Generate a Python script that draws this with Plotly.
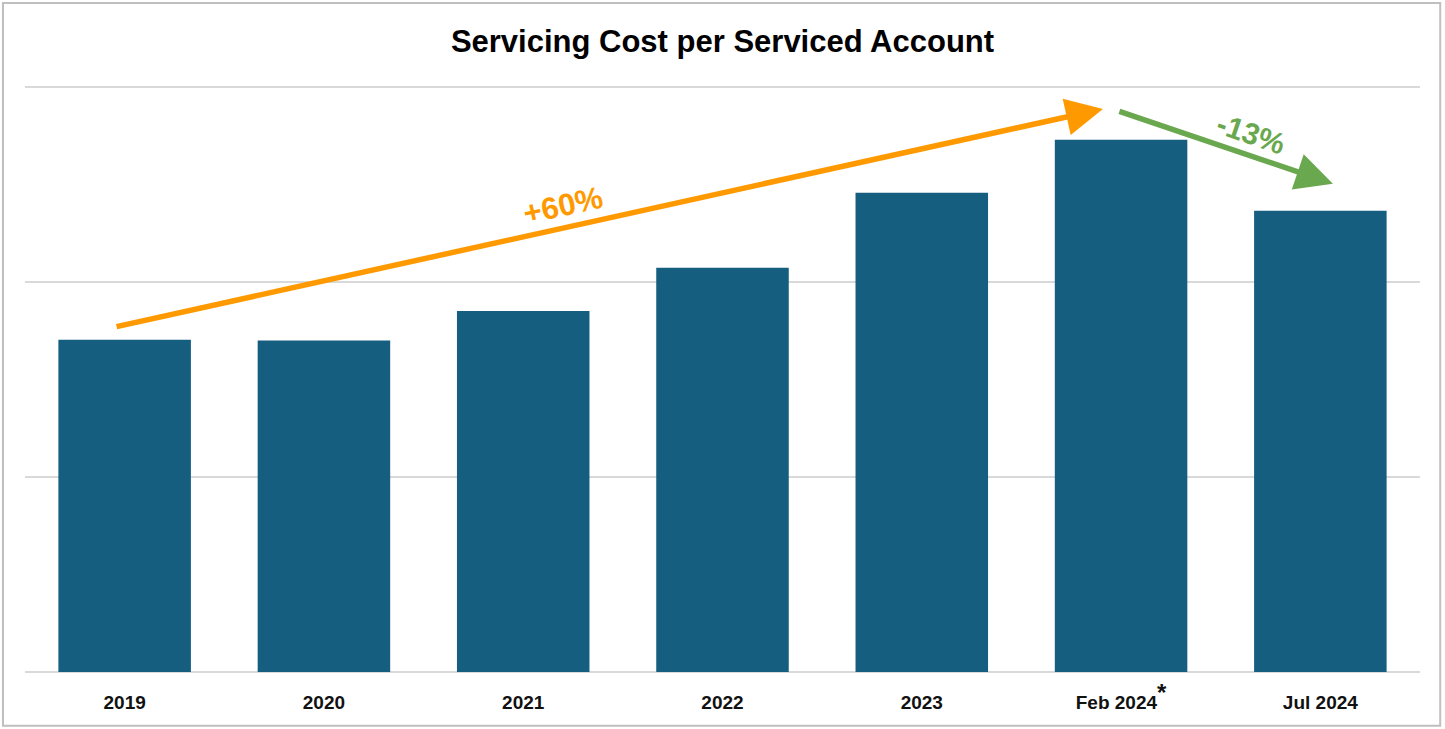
import plotly.graph_objects as go

categories = ["2019", "2020", "2021", "2022", "2023", "Feb 2024", "Jul 2024"]
tick_labels = ["2019", "2020", "2021", "2022", "2023",
               "Feb 2024<sup><span style='font-size:24px'>*</span></sup>", "Jul 2024"]
cost_values = [1.703, 1.699, 1.851, 2.073, 2.457, 2.729, 2.365]

up_label = "+60%"
down_label = "-13%"

x_pos = list(range(len(categories)))
FONT = "Liberation Sans, Arial, sans-serif"

fig = go.Figure()
fig.add_trace(go.Bar(
    x=x_pos, y=cost_values, marker=dict(color="#165E80", line=dict(width=0)),
    width=0.665, hoverinfo="skip", showlegend=False,
))

fig.update_layout(
    width=1445, height=729,
    margin=dict(l=25, r=25, t=81, b=57),
    paper_bgcolor="white", plot_bgcolor="white",
    title=dict(text="<b>Servicing Cost per Serviced Account</b>", x=0.5, xanchor="center",
               y=0.944, yanchor="middle",
               font=dict(family=FONT, size=31, color="black")),
    xaxis=dict(range=[-0.5, 6.5], tickmode="array", tickvals=x_pos,
               ticktext=["<b>" + t + "</b>" for t in tick_labels],
               showgrid=False, zeroline=False, showline=False, ticks="",
               tickfont=dict(family=FONT, size=19, color="#111"),
               ticklabelstandoff=17),
    yaxis=dict(range=[0, 3.03], tickmode="array", tickvals=[0, 1, 2, 3], showticklabels=False,
               showgrid=True, gridcolor="#D9D9D9", gridwidth=1.5, zeroline=True,
               zerolinecolor="#D9D9D9", zerolinewidth=1.5, showline=False),
    font=dict(family=FONT),
)

# Trend arrows
fig.add_annotation(x=4.909, y=2.887, ax=-0.048, ay=1.769, xref="x", yref="y", axref="x", ayref="y",
                   showarrow=True, arrowhead=2, arrowsize=1.35, arrowwidth=5.5, arrowcolor="#FF9900",
                   text="", standoff=0, startstandoff=0)
fig.add_annotation(x=6.063, y=2.503, ax=4.984, ay=2.877, xref="x", yref="y", axref="x", ayref="y",
                   showarrow=True, arrowhead=2, arrowsize=1.35, arrowwidth=5.5, arrowcolor="#6AA84F",
                   text="", standoff=0, startstandoff=0)

fig.add_annotation(x=2.20, y=2.39, xref="x", yref="y", text="<b>" + up_label + "</b>", showarrow=False,
                   textangle=-12.4, font=dict(size=31, color="#FF9900", family=FONT))
fig.add_annotation(x=5.65, y=2.76, xref="x", yref="y", text="<b>" + down_label + "</b>", showarrow=False,
                   textangle=19, font=dict(size=30, color="#6AA84F", family=FONT))

# chart border
fig.add_shape(type="rect", xref="paper", yref="paper", x0=-0.0158, x1=1.0145, y0=-0.091, y1=1.132,
              line=dict(color="#BFBFBF", width=2), fillcolor="rgba(0,0,0,0)", layer="below")

fig.write_html("out.html")
